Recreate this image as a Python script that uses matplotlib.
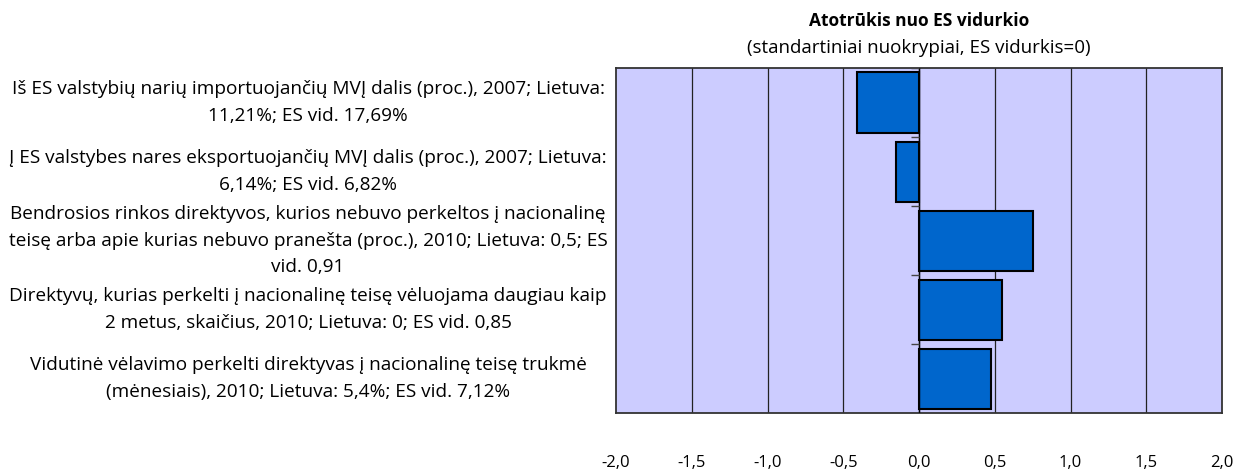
import matplotlib
matplotlib.use('Agg')
import matplotlib.pyplot as plt
import numpy as np

plt.rcParams['font.family'] = ['Open Sans', 'DejaVu Sans']

labels = [
    'Iš ES valstybių narių importuojančių MVĮ dalis (proc.), 2007; Lietuva:\n11,21%; ES vid. 17,69%',
    'Į ES valstybes nares eksportuojančių MVĮ dalis (proc.), 2007; Lietuva:\n6,14%; ES vid. 6,82%',
    'Bendrosios rinkos direktyvos, kurios nebuvo perkeltos į nacionalinę\nteisę arba apie kurias nebuvo pranešta (proc.), 2010; Lietuva: 0,5; ES\nvid. 0,91',
    'Direktyvų, kurias perkelti į nacionalinę teisę vėluojama daugiau kaip\n2 metus, skaičius, 2010; Lietuva: 0; ES vid. 0,85',
    'Vidutinė vėlavimo perkelti direktyvas į nacionalinę teisę trukmė\n(mėnesiais), 2010; Lietuva: 5,4%; ES vid. 7,12%',
]
values = [-0.41, -0.15, 0.75, 0.55, 0.475]
xticks = [-2.0, -1.5, -1.0, -0.5, 0.0, 0.5, 1.0, 1.5, 2.0]

fig = plt.figure(figsize=(12.33, 4.71), dpi=100)
ax = fig.add_axes([0.4996, 0.123, 0.4915, 0.7326])
ax.set_facecolor('#CCCCFF')

y = np.arange(len(values))
ax.barh(y, values, height=0.87, color='#0066CC', edgecolor='black', linewidth=1.5, zorder=3)

ax.set_xlim(-2, 2)
ax.set_ylim(len(values) - 0.5, -0.5)
ax.set_xticks(xticks)
ax.set_xticklabels([f'{v:.1f}'.replace('.', ',') for v in xticks], fontsize=12)
ax.tick_params(axis='x', length=0, pad=30)
for v in xticks[1:-1]:
    ax.axvline(v, color='#222222', linewidth=0.9, zorder=1)

ax.set_yticks([])
for yi, lab in zip(y, labels):
    ax.text(-0.508, yi, lab, transform=ax.get_yaxis_transform(), ha='center', va='center',
            fontsize=13.7, linespacing=1.6)

# category axis drawn at zero with small boundary ticks
ax.axvline(0, color='black', linewidth=1.0, zorder=4)
ax.hlines(np.arange(len(values) + 1) - 0.5, -0.05, 0, color='#444444', linewidth=1.0, zorder=4)

for s in ax.spines.values():
    s.set_color('#333333')
    s.set_linewidth(1.3)

cx = 0.4996 + 0.4915 / 2
fig.text(cx, 0.955, 'Atotrūkis nuo ES vidurkio', ha='center', va='center', fontsize=12.5, fontweight='bold')
fig.text(cx, 0.898, '(standartiniai nuokrypiai, ES vidurkis=0)', ha='center', va='center', fontsize=13.5)

fig.savefig('out.png', dpi=100)
